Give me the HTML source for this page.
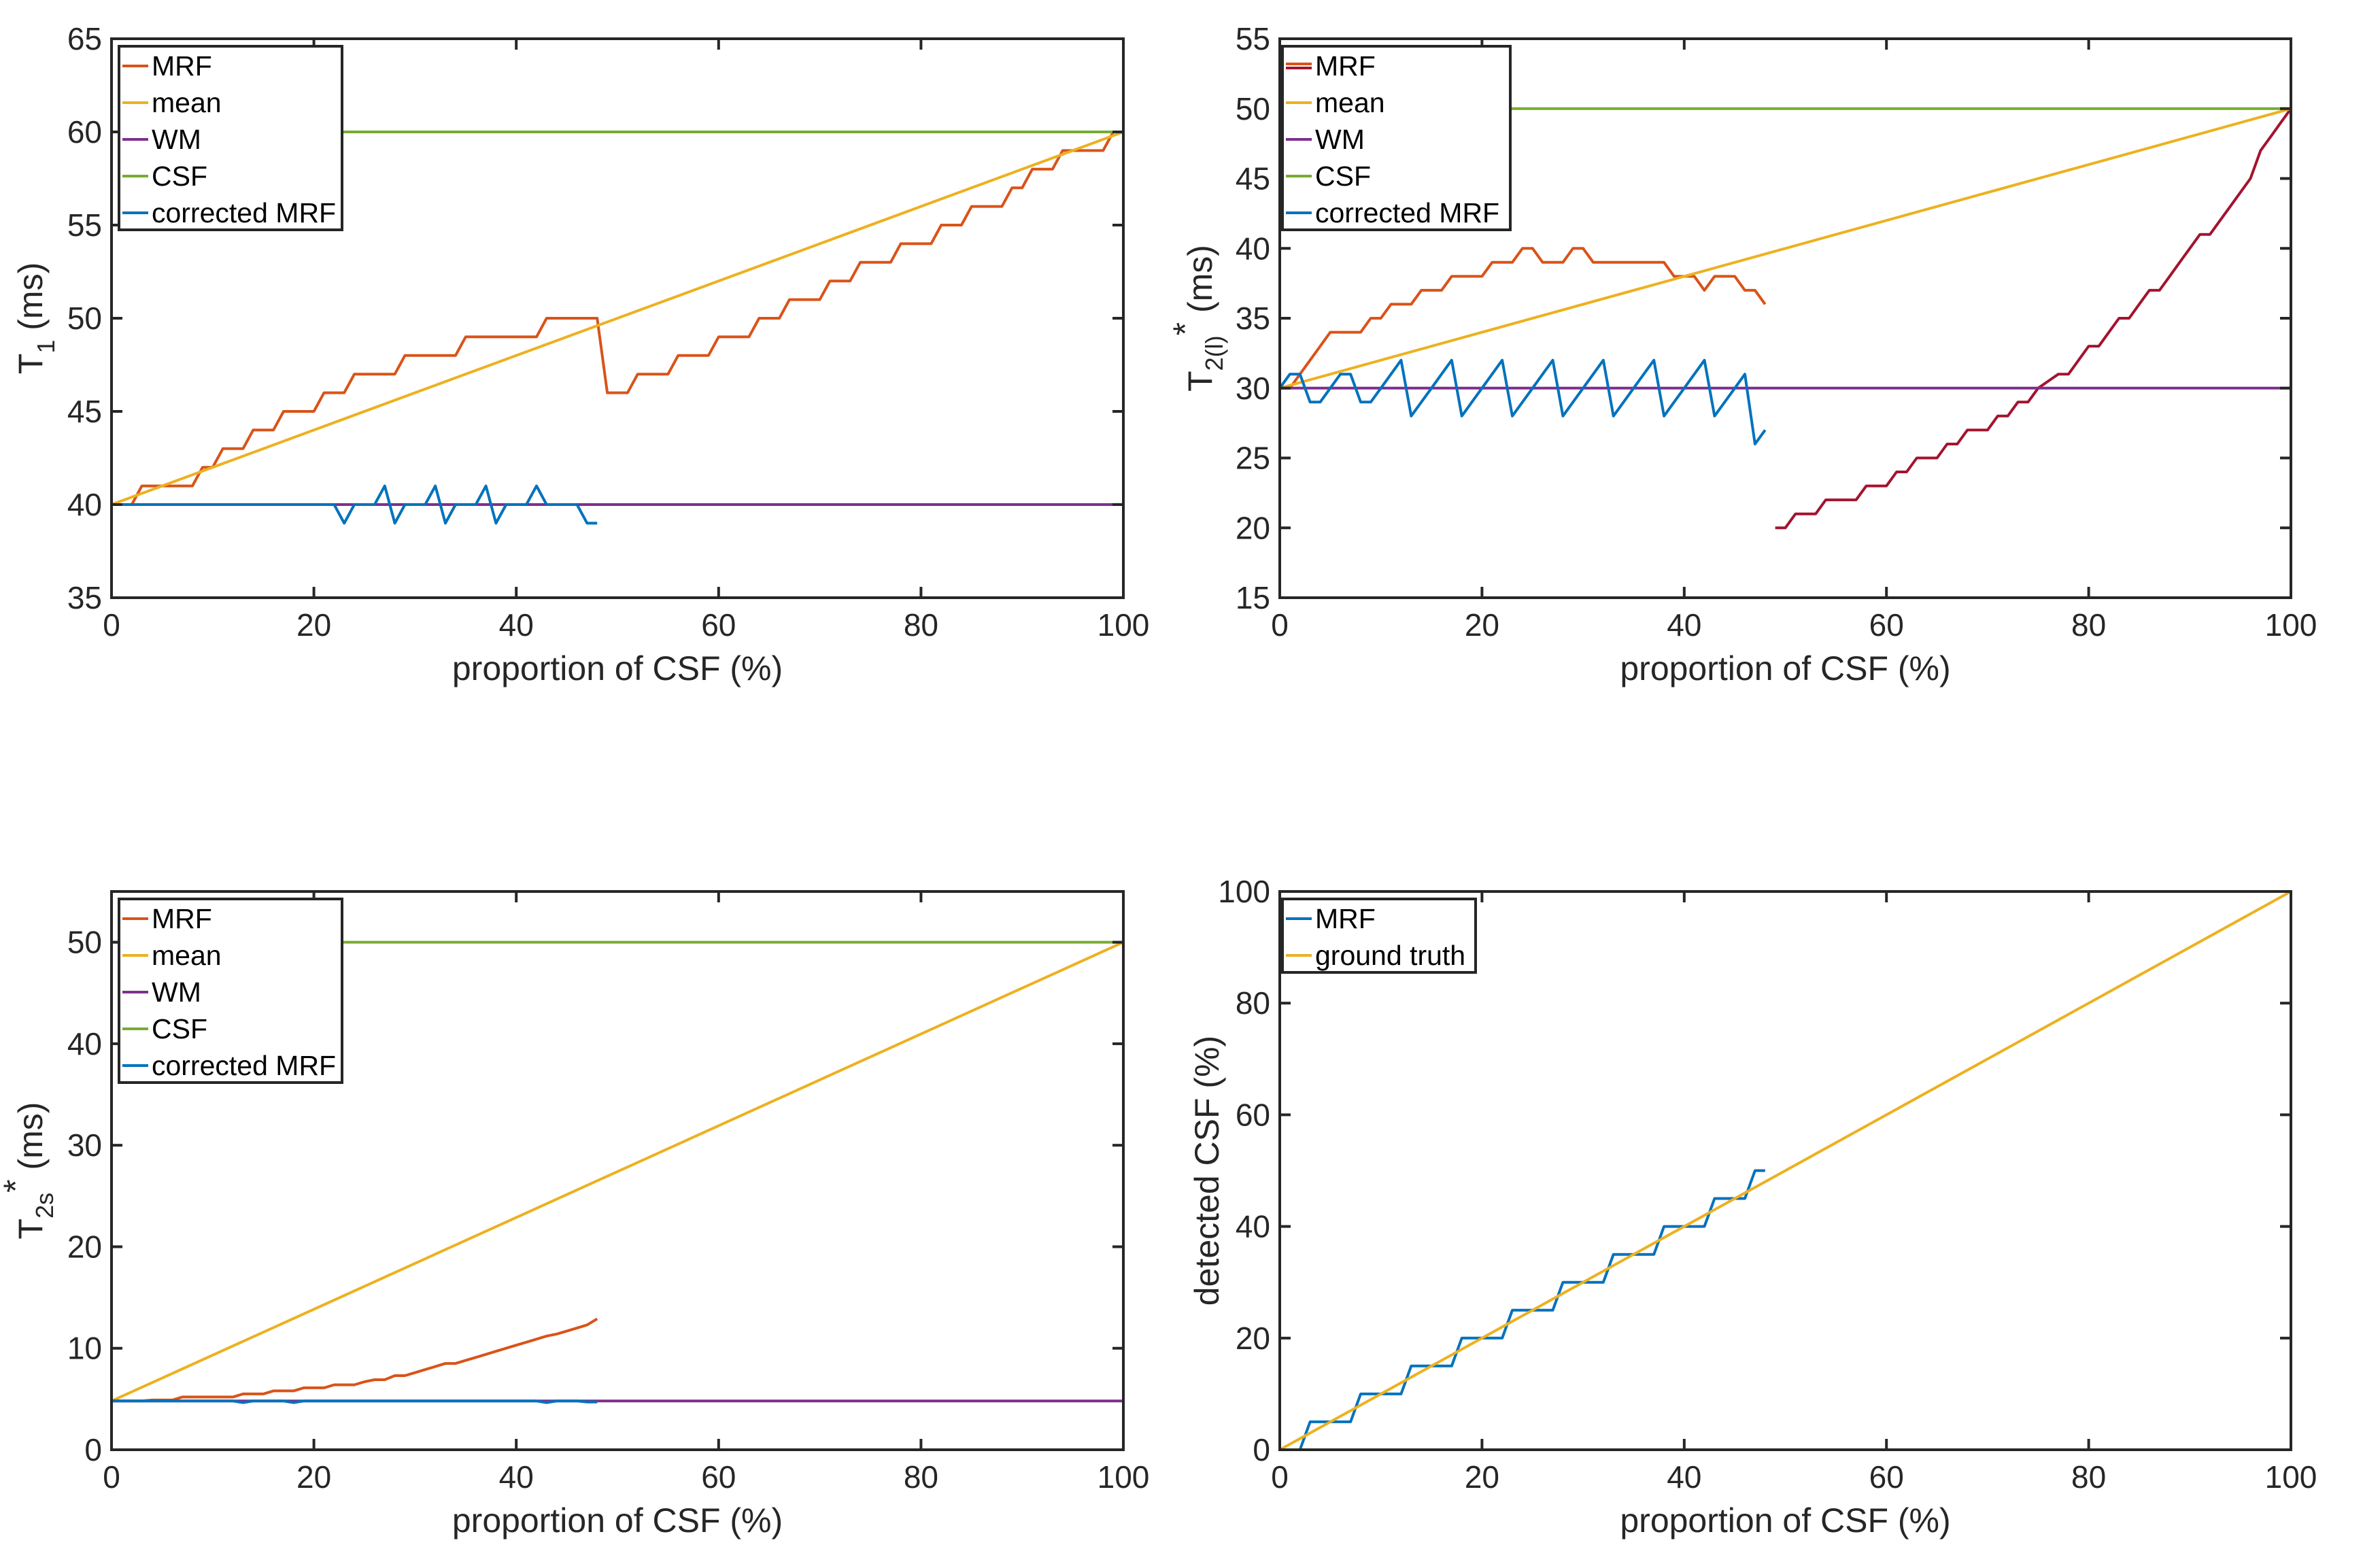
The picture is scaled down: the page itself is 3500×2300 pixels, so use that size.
<!DOCTYPE html>
<html><head><meta charset="utf-8"><style>
html,body{margin:0;padding:0;background:#fff;}
svg{display:block;font-family:"Liberation Sans",Arial,sans-serif;}
</style></head><body>
<svg id="fig" width="3500" height="2300" viewBox="0 0 3500 2300" xmlns="http://www.w3.org/2000/svg"></svg>
<script>
// ---- shared x data ----
const xFull = Array.from({length:101},(_, i)=>i);
// ---- Plot 1: T1 ----
const t1MRF = [40,40,40,41,41,41,41,41,41,42,42,43,43,43,44,44,44,45,45,45,45,46,46,46,47,47,47,47,47,48,48,48,48,48,48,49,49,49,49,49,49,49,49,50,50,50,50,50,50,46,46,46,47,47,47,47,48,48,48,48,49,49,49,49,50,50,50,51,51,51,51,52,52,52,53,53,53,53,54,54,54,54,55,55,55,56,56,56,56,57,57,58,58,58,59,59,59,59,59,60,60];
const t1Corr = [40,40,40,40,40,40,40,40,40,40,40,40,40,40,40,40,40,40,40,40,40,40,40,39,40,40,40,41,39,40,40,40,41,39,40,40,40,41,39,40,40,40,41,40,40,40,40,39,39];
const t1Mean = [40,60];
const t1WM = [40,40];
const t1CSF = [60,60];
const t1Ticks = [35,40,45,50,55,60,65];
// ---- Plot 2: T2(l)* ----
const t2MRFa = [30,30,31,32,33,34,34,34,34,35,35,36,36,36,37,37,37,38,38,38,38,39,39,39,40,40,39,39,39,40,40,39,39,39,39,39,39,39,39,38,38,38,37,38,38,38,37,37,36];
const t2MRFb = [20,20,21,21,21,22,22,22,22,23,23,23,24,24,25,25,25,26,26,27,27,27,28,28,29,29,30,30.5,31,31,32,33,33,34,35,35,36,37,37,38,39,40,41,41,42,43,44,45,47,48,49,50];
const t2Corr = [30,31,31,29,29,30,31,31,29,29,30,31,32,28,29,30,31,32,28,29,30,31,32,28,29,30,31,32,28,29,30,31,32,28,29,30,31,32,28,29,30,31,32,28,29,30,31,26,27];
const t2Mean = [30,50];
const t2WM = [30,30];
const t2CSF = [50,50];
const t2Ticks = [15,20,25,30,35,40,45,50,55];
// ---- Plot 3: T2s* ----
const t3MRF = [4.8,4.8,4.8,4.8,4.9,4.9,4.9,5.2,5.2,5.2,5.2,5.2,5.2,5.5,5.5,5.5,5.8,5.8,5.8,6.1,6.1,6.1,6.4,6.4,6.4,6.7,6.9,6.9,7.3,7.3,7.6,7.9,8.2,8.5,8.5,8.8,9.1,9.4,9.7,10.0,10.3,10.6,10.9,11.2,11.4,11.7,12.0,12.3,12.9];
const t3Corr = [4.8,4.8,4.8,4.8,4.8,4.8,4.8,4.8,4.8,4.8,4.8,4.8,4.8,4.65,4.8,4.8,4.8,4.8,4.65,4.8,4.8,4.8,4.8,4.8,4.8,4.8,4.8,4.8,4.8,4.8,4.8,4.8,4.8,4.8,4.8,4.8,4.8,4.8,4.8,4.8,4.8,4.8,4.8,4.65,4.8,4.8,4.8,4.7,4.7];
const t3Mean = [4.8,50];
const t3WM = [4.8,4.8];
const t3CSF = [50,50];
const t3Ticks = [0,10,20,30,40,50];
// ---- Plot 4: detected CSF ----
const p4MRF = [0,0,0,5,5,5,5,5,10,10,10,10,10,15,15,15,15,15,20,20,20,20,20,25,25,25,25,25,30,30,30,30,30,35,35,35,35,35,40,40,40,40,40,45,45,45,45,50,50];
const p4Truth = [0,100];
const p4Ticks = [0,20,40,60,80,100];
const xTicks = [0,20,40,60,80,100];
const xEnds = [0,100];

const C = {mrf:'#D95319', mean:'#EDB120', wm:'#7E2F8E', csf:'#77AC30', corr:'#0072BD', red:'#A2142F', ax:'#262626'};
const NS='http://www.w3.org/2000/svg';
const svg=document.getElementById('fig');
function mk(tag, attrs, parent){const e=document.createElementNS(NS,tag);for(const k in attrs)e.setAttribute(k,attrs[k]);(parent||svg).appendChild(e);return e;}

function makeAxes(name, box, ymin, ymax, yTicks){
  const g=mk('g',{});
  
  
  const sx=v=>box.x+(v-0)/(100-0)*box.w;
  const sy=v=>box.y+box.h-(v-ymin)/(ymax-ymin)*box.h;
  const plot=mk('g',{},g);
  
  
  return {g,sx,sy,box,plot,ymin,ymax,yTicks};
}
function line(ax, xs, ys, color, nm){
  const pts=ys.map((v,i)=>ax.sx(xs[i]).toFixed(1)+','+ax.sy(v).toFixed(1)).join(' ');
  const p=mk('polyline',{points:pts,fill:'none',stroke:color,'stroke-width':4,'stroke-linejoin':'round'},ax.plot);
  
  
}
function frame(ax, xlab){
  const b=ax.box, g=ax.g;
  const fr=mk('rect',{x:b.x,y:b.y,width:b.w,height:b.h,fill:'none',stroke:C.ax,'stroke-width':4},g);
  
  
  xTicks.forEach(t=>{
    const x=ax.sx(t);
    mk('line',{x1:x,x2:x,y1:b.y+b.h,y2:b.y+b.h-16,stroke:C.ax,'stroke-width':4},g);
    mk('line',{x1:x,x2:x,y1:b.y,y2:b.y+16,stroke:C.ax,'stroke-width':4},g);
    const tx=mk('text',{x:x,y:b.y+b.h+56,'font-size':46,fill:C.ax,'text-anchor':'middle'},g);
    tx.textContent=t;
    
    
  });
  ax.yTicks.forEach(t=>{
    const y=ax.sy(t);
    mk('line',{x1:b.x,x2:b.x+16,y1:y,y2:y,stroke:C.ax,'stroke-width':4},g);
    mk('line',{x1:b.x+b.w,x2:b.x+b.w-16,y1:y,y2:y,stroke:C.ax,'stroke-width':4},g);
    const ty=mk('text',{x:b.x-14,y:y+16,'font-size':46,fill:C.ax,'text-anchor':'end'},g);
    ty.textContent=t;
    
    
  });
  const xl=mk('text',{x:b.x+b.w/2,y:b.y+b.h+121,'font-size':50,fill:C.ax,'text-anchor':'middle'},g);
  xl.textContent=xlab;
  
  
}
function ylabel(ax, html, xpos){
  const b=ax.box;
  const t=mk('text',{x:0,y:0,'font-size':50,fill:C.ax,'text-anchor':'middle',transform:`translate(${xpos},${b.y+b.h/2}) rotate(-90)`},ax.g);
  t.innerHTML=html;
  
  
}
function legend(ax, x, y, w, entries){
  const g=mk('g',{},ax.g);
  
  
  const rowH=54, h=entries.length*rowH+0;
  mk('rect',{x:x,y:y,width:w,height:h,fill:'#fff',stroke:C.ax,'stroke-width':4},g);
  entries.forEach((e,i)=>{
    const cy=y+29+i*rowH;
    const eg=mk('g',{},g);
    
    
    if(e.c2){
      mk('line',{x1:x+5,x2:x+43,y1:cy-3,y2:cy-3,stroke:e.c,'stroke-width':4},eg);
      mk('line',{x1:x+5,x2:x+43,y1:cy+3,y2:cy+3,stroke:e.c2,'stroke-width':4},eg);
    } else mk('line',{x1:x+5,x2:x+43,y1:cy,y2:cy,stroke:e.c,'stroke-width':4},eg);
    const t=mk('text',{x:x+48,y:cy+14,'font-size':41,fill:'#000'},eg);
    t.textContent=e.l;
  });
}
const x49 = xFull.slice(0,49);
const xB = xFull.slice(49);

// Plot 1
const a1=makeAxes('t1-chart',{x:164,y:57,w:1488,h:822},35,65,t1Ticks);
line(a1,xFull,t1MRF,C.mrf,'mrf-line');
line(a1,xEnds,t1Mean,C.mean,'mean-line');
line(a1,xEnds,t1WM,C.wm,'wm-line');
line(a1,xEnds,t1CSF,C.csf,'csf-line');
line(a1,x49,t1Corr,C.corr,'corrected-mrf-line');
frame(a1,'proportion of CSF (%)');
ylabel(a1,'T<tspan font-size="36" dy="18">1</tspan><tspan dy="-18"> (ms)</tspan>',62);
legend(a1,175,68,328,[{l:'MRF',c:C.mrf},{l:'mean',c:C.mean},{l:'WM',c:C.wm},{l:'CSF',c:C.csf},{l:'corrected MRF',c:C.corr}]);

// Plot 2
const a2=makeAxes('t2l-chart',{x:1882,y:57,w:1487,h:822},15,55,t2Ticks);
line(a2,x49,t2MRFa,C.mrf,'mrf-line-low');
line(a2,xB,t2MRFb,C.red,'mrf-line-high');
line(a2,xEnds,t2Mean,C.mean,'mean-line');
line(a2,xEnds,t2WM,C.wm,'wm-line');
line(a2,xEnds,t2CSF,C.csf,'csf-line');
line(a2,x49,t2Corr,C.corr,'corrected-mrf-line');
frame(a2,'proportion of CSF (%)');
ylabel(a2,'T<tspan font-size="36" dy="16">2(l)</tspan><tspan dy="-38">*</tspan><tspan dy="22"> (ms)</tspan>',1782);
legend(a2,1886,68,335,[{l:'MRF',c:C.mrf,c2:C.red},{l:'mean',c:C.mean},{l:'WM',c:C.wm},{l:'CSF',c:C.csf},{l:'corrected MRF',c:C.corr}]);

// Plot 3
const a3=makeAxes('t2s-chart',{x:164,y:1311,w:1488,h:821},0,55,t3Ticks);
line(a3,x49,t3MRF,C.mrf,'mrf-line');
line(a3,xEnds,t3Mean,C.mean,'mean-line');
line(a3,xEnds,t3WM,C.wm,'wm-line');
line(a3,xEnds,t3CSF,C.csf,'csf-line');
line(a3,x49,t3Corr,C.corr,'corrected-mrf-line');
frame(a3,'proportion of CSF (%)');
ylabel(a3,'T<tspan font-size="36" dy="16">2s</tspan><tspan dy="-38">*</tspan><tspan dy="22"> (ms)</tspan>',62);
legend(a3,175,1322,328,[{l:'MRF',c:C.mrf},{l:'mean',c:C.mean},{l:'WM',c:C.wm},{l:'CSF',c:C.csf},{l:'corrected MRF',c:C.corr}]);

// Plot 4
const a4=makeAxes('detected-csf-chart',{x:1882,y:1311,w:1487,h:821},0,100,p4Ticks);
line(a4,x49,p4MRF,C.corr,'mrf-line');
line(a4,xEnds,p4Truth,C.mean,'ground-truth-line');
frame(a4,'proportion of CSF (%)');
ylabel(a4,'detected CSF (%)',1792);
legend(a4,1886,1322,284,[{l:'MRF',c:C.corr},{l:'ground truth',c:C.mean}]);
</script>
</body></html>
